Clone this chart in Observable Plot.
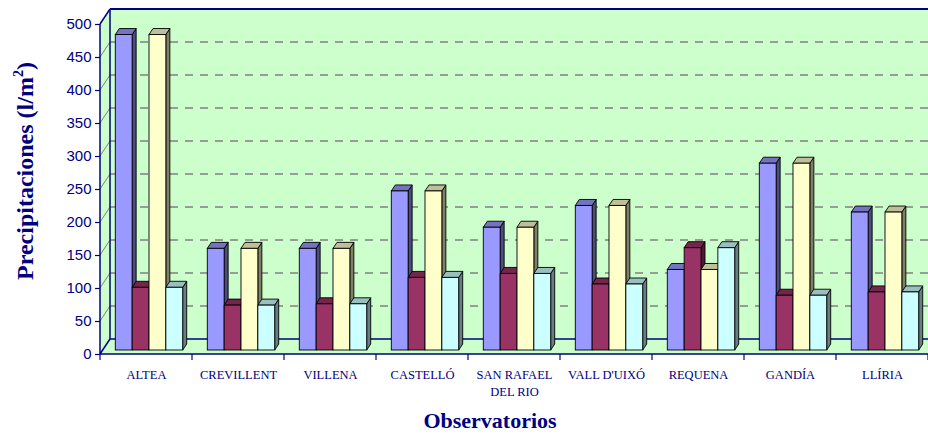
<!DOCTYPE html>
<html>
<head>
<meta charset="utf-8">
<script src="https://cdn.jsdelivr.net/npm/d3@7"></script>
<script src="https://cdn.jsdelivr.net/npm/@observablehq/plot@0.6"></script>
<style>
  html, body { margin: 0; padding: 0; background: #ffffff; }
  svg { display: block; }
</style>
</head>
<body>
<div id="chart"></div>
<script>
// ---- data ----
const categories = ["ALTEA", "CREVILLENT", "VILLENA", "CASTELLÓ", "SAN RAFAEL DEL RIO", "VALL D'UIXÓ", "REQUENA", "GANDÍA", "LLÍRIA"];
const serie1 = [478, 154, 154, 241, 186, 219, 122, 283, 209];
const serie2 = [95, 68, 70, 110, 116, 100, 155, 83, 88];
const serie3 = [478, 154, 154, 241, 186, 219, 122, 283, 209];
const serie4 = [95, 68, 70, 110, 116, 100, 155, 83, 88];
const yTicks = [0, 50, 100, 150, 200, 250, 300, 350, 400, 450, 500];
const yTitle = "Precipitaciones (l/m";
const yTitleSup = "2";
const yTitleEnd = ")";
const xTitle = "Observatorios";

// ---- styles ----
const frontColors = ["#9999FF", "#993366", "#FFFFCC", "#CCFFFF"];
const topColors = ["#7373BF", "#73264C", "#BFBF99", "#99BFBF"];
const sideColors = ["#4C4C80", "#4D1933", "#808066", "#668080"];
const navy = "#000080";
const wallFill = "#CCFFCC";
const WALL = {dx: 10, dy: -15};
const BAR = {dx: 3, dy: -4};
const DEPTH = {dx: 4, dy: -6};
const groupPad = 12.3;
const barW = 16.85;

const series = [serie1, serie2, serie3, serie4];
const rows = categories.flatMap((c, i) => series.map((vals, s) => ({cat: c, s, v: vals[i]})));

function walls(index, scales, values, dims) {
  const {x, y} = scales;
  const {width, marginLeft: L, marginRight: R} = dims;
  const xr = width - R;
  const y0 = y(yTicks[0]), yT = y(yTicks[yTicks.length - 1]);
  const g = d3.create("svg:g");
  g.append("polygon")
    .attr("points", [[L, y0], [L, yT], [L + WALL.dx, yT + WALL.dy], [xr + WALL.dx, yT + WALL.dy], [xr + WALL.dx, y0 + WALL.dy], [xr, y0]].join(" "))
    .attr("fill", wallFill);
  const grid = g.append("g").attr("stroke", "#808080").attr("stroke-width", 1.3).attr("fill", "none");
  for (const v of yTicks.slice(1, -1)) {
    const yy = y(v);
    grid.append("line").attr("x1", L).attr("y1", yy).attr("x2", L + WALL.dx).attr("y2", yy + WALL.dy).attr("stroke-width", 1);
    grid.append("line").attr("x1", L + WALL.dx).attr("y1", yy + WALL.dy).attr("x2", xr + WALL.dx).attr("y2", yy + WALL.dy)
      .attr("stroke-dasharray", "8,7");
  }
  const edges = g.append("g").attr("stroke", navy).attr("fill", "none").attr("stroke-width", 1.5);
  const line = (a, b, w) => edges.append("line").attr("x1", a[0]).attr("y1", a[1]).attr("x2", b[0]).attr("y2", b[1]).attr("stroke-width", w || 1.5);
  line([L + WALL.dx, yT + WALL.dy], [xr + WALL.dx, yT + WALL.dy], 2.2);
  line([L + WALL.dx, yT + WALL.dy], [L + WALL.dx, y0 + WALL.dy]);
  line([L + WALL.dx, y0 + WALL.dy], [xr + WALL.dx, y0 + WALL.dy]);
  line([L, yT], [L + WALL.dx, yT + WALL.dy]);
  line([L, y0], [L + WALL.dx, y0 + WALL.dy]);
  line([L, yT], [L, y0]);
  line([L, y0], [xr, y0]);
  // category boundary ticks
  const bounds = categories.map(c => x(c)).concat([xr]);
  for (const bx of bounds) line([bx, y0], [bx, y0 + 6], 1.2);
  return g.node();
}

function faces(index, scales) {
  const {x, y} = scales;
  const g = d3.create("svg:g")
    .attr("transform", `translate(${BAR.dx},${BAR.dy})`)
    .attr("stroke", "#000").attr("stroke-width", 0.9).attr("stroke-linejoin", "round");
  for (const d of rows) {
    const x0 = x(d.cat) + groupPad + d.s * barW, x1 = x0 + barW;
    const yt = y(d.v), yb = y(0);
    g.append("polygon")
      .attr("points", [[x1, yt], [x1 + DEPTH.dx, yt + DEPTH.dy], [x1 + DEPTH.dx, yb + DEPTH.dy], [x1, yb]].join(" "))
      .attr("fill", sideColors[d.s]);
    g.append("polygon")
      .attr("points", [[x0, yt], [x0 + DEPTH.dx, yt + DEPTH.dy], [x1 + DEPTH.dx, yt + DEPTH.dy], [x1, yt]].join(" "))
      .attr("fill", topColors[d.s]);
  }
  return g.node();
}

function titles(index, scales, values, dims) {
  const {width, height, marginLeft: L, marginRight: R} = dims;
  const g = d3.create("svg:g").attr("fill", navy)
    .attr("font-family", "'Liberation Serif', 'Times New Roman', serif").attr("font-weight", "bold");
  const t = g.append("text").attr("transform", "translate(33,171) rotate(-90)")
    .attr("text-anchor", "middle").attr("font-size", 24);
  t.append("tspan").text(yTitle);
  t.append("tspan").attr("font-size", 14).attr("dy", -10).text(yTitleSup);
  t.append("tspan").attr("dy", 10).text(yTitleEnd);
  g.append("text").attr("x", (L + width - R) / 2 - 24).attr("y", height - 6)
    .attr("text-anchor", "middle").attr("font-size", 22).text(xTitle);
  return g.node();
}

const barMarks = series.map((vals, s) =>
  Plot.barY(rows.filter(d => d.s === s), {
    x: "cat", y: "v",
    fill: frontColors[s], stroke: "#000", strokeWidth: 0.9,
    insetLeft: groupPad + s * barW,
    insetRight: groupPad + (series.length - 1 - s) * barW,
    dx: BAR.dx, dy: BAR.dy
  })
);

const chart = Plot.plot({
  width: 928,
  height: 434,
  marginLeft: 100,
  marginRight: 0,
  marginTop: 24,
  marginBottom: 80,
  style: {background: "#ffffff"},
  x: {domain: categories, padding: 0, axis: null},
  y: {domain: [0, 500], axis: null},
  marks: [
    walls,
    faces,
    ...barMarks,
    Plot.axisY({
      ticks: yTicks, tickSize: 5, tickPadding: 4, color: navy, label: null,
      fontSize: 15, fontFamily: "'Liberation Sans', Arial, sans-serif", strokeWidth: 1.2
    }),
    Plot.axisX({
      tickSize: 0, tickPadding: 13, color: navy, label: null,
      fontSize: 12.5, fontFamily: "'Liberation Serif', 'Times New Roman', serif", lineHeight: 1.35,
      tickFormat: d => d === "SAN RAFAEL DEL RIO" ? "SAN RAFAEL\nDEL RIO" : d
    }),
    titles
  ]
});

document.getElementById("chart").appendChild(chart);
</script>
</body>
</html>
